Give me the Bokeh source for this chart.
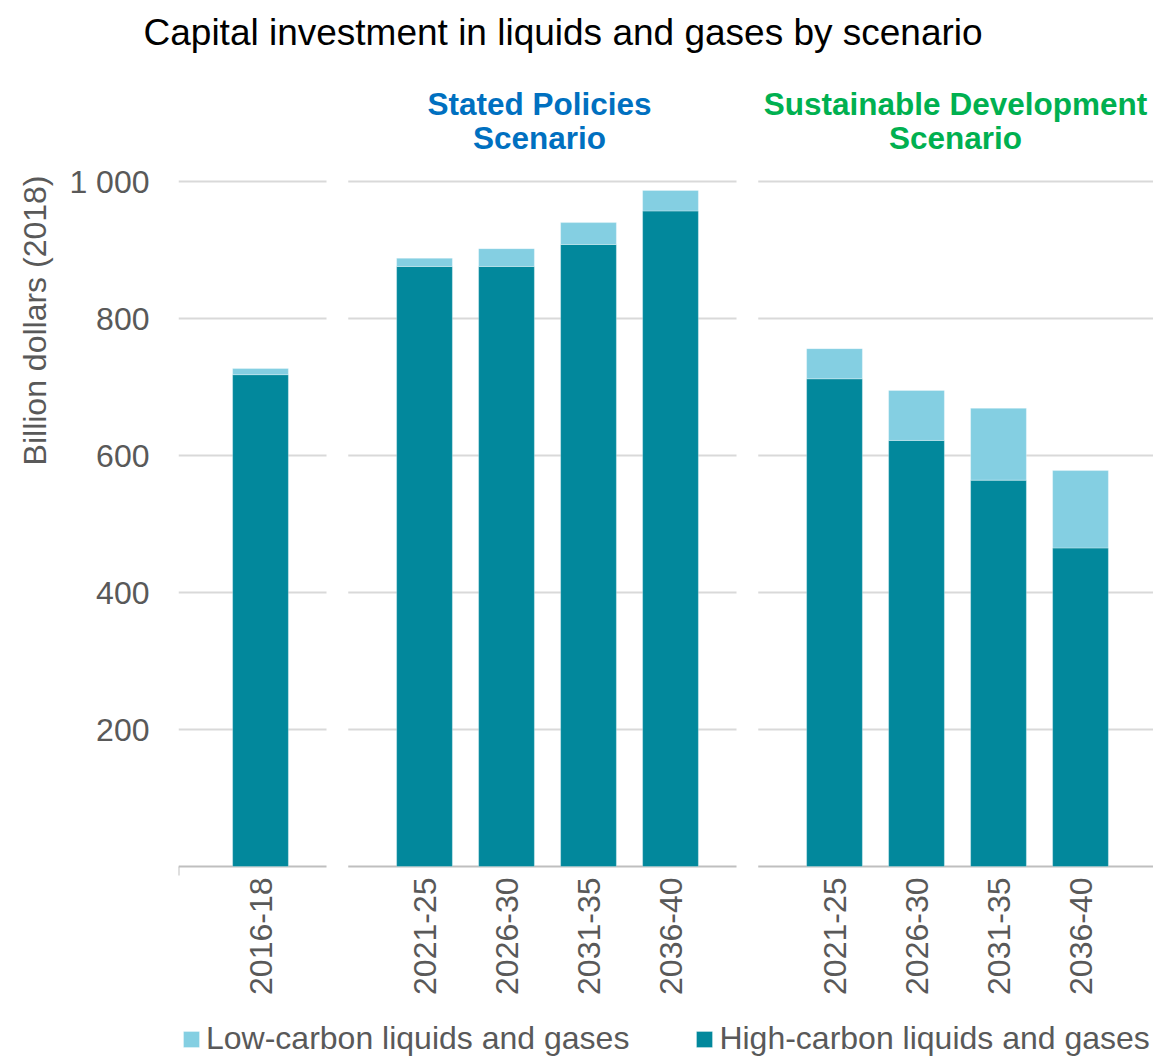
import math
from bokeh.plotting import figure
from bokeh.models import (ColumnDataSource, Range1d, FixedTicker, Label, Legend, LegendItem, Title)
from bokeh.core.properties import value
from bokeh.embed import file_html
from bokeh.resources import INLINE

# ---------------- data ----------------
title_text = "Capital investment in liquids and gases by scenario"
y_title = "Billion dollars (2018)"
group_header_lines = [[], ["Stated Policies", "Scenario"], ["Sustainable Development", "Scenario"]]
group_header_colors = [None, "#0070C0", "#00B050"]
group_header_shift = [0, -8, -2]
group_periods = [
    ["2016-18"],
    ["2021-25", "2026-30", "2031-35", "2036-40"],
    ["2021-25", "2026-30", "2031-35", "2036-40"],
]
high_carbon = [718, 876, 876, 908, 957, 712, 622, 564, 465]
low_carbon = [9, 12, 26, 32, 30, 44, 73, 105, 113]
y_ticks = [200, 400, 600, 800, 1000]
y_tick_labels = {1000: "1 000"}
series_names = ["Low-carbon liquids and gases", "High-carbon liquids and gases"]

# ---------------- styling ----------------
DARK = "#02889C"
LIGHT = "#84CFE2"
GRID = "#D9D9D9"
BASE = "#BFBFBF"
TXT = "#595959"
FONT = "Liberation Sans"
FS = "32px"
PX_PER_CAT = 82.0
PX_PER_UNIT = 0.685

FRAME_W = 975
FRAME_H = 995
TOP_BORDER = 61
BASELINE_FROM_TOP = 866 - 62          # px from frame top to the zero line
x_end = FRAME_W / PX_PER_CAT
y_end = BASELINE_FROM_TOP / PX_PER_UNIT
y_start = y_end - FRAME_H / PX_PER_UNIT
tick_stub = -9 / PX_PER_UNIT

# positions derived from grouping
positions, labels, group_pos = [], [], []
pos = 1
for periods in group_periods:
    gp = []
    for per in periods:
        positions.append(pos)
        labels.append(per)
        gp.append(pos)
        pos += 1
    group_pos.append(gp)
    pos += 1

source = ColumnDataSource(dict(x=positions, high=high_carbon, low=low_carbon, label=labels))

p = figure(frame_width=FRAME_W, frame_height=FRAME_H, output_backend="svg", toolbar_location=None,
           x_range=Range1d(0, x_end), y_range=Range1d(y_start, y_end), x_axis_location=None,
           min_border_left=171, min_border_right=0, min_border_top=TOP_BORDER, min_border_bottom=0)
p.outline_line_color = None
p.xgrid.visible = False
p.ygrid.visible = False

p.title.text = title_text
p.title.text_font = FONT
p.title.text_font_size = "37px"
p.title.text_font_style = "normal"
p.title.text_color = "#000000"
p.title.align = "left"
p.title.offset = -35
p.title.standoff = 19

# panel bounds
bounds = []
for i, gp in enumerate(group_pos):
    s = 0 if i == 0 else gp[0] - 0.93
    e = x_end if i == len(group_pos) - 1 else gp[-1] + 0.805
    bounds.append((s, e))

gx0, gx1, gy = [], [], []
for (s, e) in bounds:
    for t in y_ticks:
        gx0.append(s); gx1.append(e); gy.append(t)
p.segment(x0=gx0, y0=gy, x1=gx1, y1=gy, line_color=GRID, line_width=2)

bx0 = [b[0] for b in bounds]
bx1 = [b[1] for b in bounds]
p.segment(x0=bx0, y0=[0] * len(bounds), x1=bx1, y1=[0] * len(bounds), line_color=BASE, line_width=2)
p.segment(x0=[0], y0=[0], x1=[0], y1=[tick_stub], line_color=BASE, line_width=2)

rs = p.vbar_stack(["high", "low"], x="x", width=0.68, color=[DARK, LIGHT],
                  line_color="white", line_width=0.6, line_alpha=0.5, source=source)

# category labels under the zero line (vertical)
p.text(x="x", y=0, text="label", source=source, angle=math.pi / 2,
       text_align="right", text_baseline="middle", y_offset=11,
       text_font=value(FONT), text_font_size=value(FS), text_color=TXT)

# y axis
yax = p.yaxis[0]
yax.ticker = FixedTicker(ticks=y_ticks)
yax.major_label_overrides = y_tick_labels
yax.major_label_text_font = FONT
yax.major_label_text_font_size = FS
yax.major_label_text_color = TXT
yax.axis_line_color = None
yax.major_tick_line_color = None
yax.minor_tick_line_color = None
yax.major_tick_out = 0
yax.major_tick_in = 0
yax.major_label_standoff = 29

# y-axis title as a side title
p.add_layout(Title(text=y_title, align="right", offset=113, standoff=28,
                   text_font=FONT, text_font_size=FS, text_font_style="normal",
                   text_color=TXT), "left")

# scenario headers
for gp, lines, col, sh in zip(group_pos, group_header_lines, group_header_colors, group_header_shift):
    cx = sum(gp) / len(gp)
    for k, line in enumerate(lines):
        p.add_layout(Label(x=cx, y=(866 - 103 - 34 * k) / PX_PER_UNIT, x_offset=sh, text=line,
                           text_font=FONT, text_font_size="31.5px", text_font_style="bold",
                           text_color=col, text_align="center", text_baseline="middle"))

legend = Legend(items=[LegendItem(label=series_names[0], renderers=[rs[1]]),
                       LegendItem(label=series_names[1], renderers=[rs[0]])],
                orientation="horizontal", location=(3, 0),
                label_text_font=FONT, label_text_font_size=FS, label_text_color=TXT,
                glyph_width=20, glyph_height=20, spacing=65, label_standoff=5,
                padding=0, margin=0, border_line_color=None, background_fill_alpha=0)
p.add_layout(legend)

open("out.html", "w").write(file_html(p, INLINE))
